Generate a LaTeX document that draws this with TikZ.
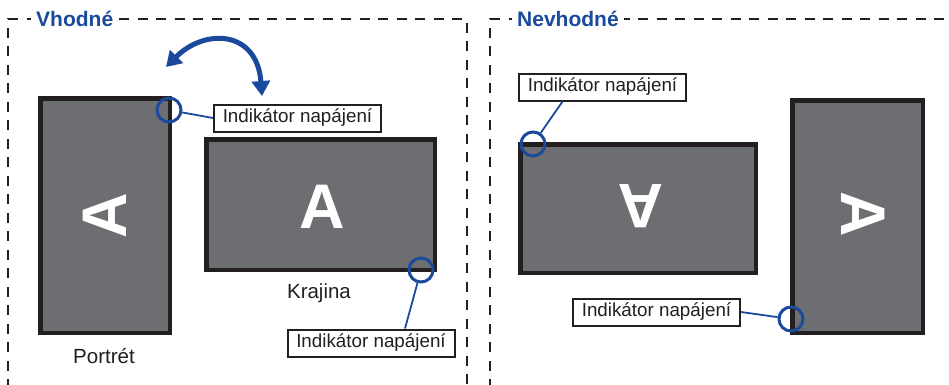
\documentclass[tikz,border=0pt]{standalone}
\usepackage{fontspec}
\setmainfont{Liberation Sans}
\usepackage{tikz}
\usetikzlibrary{positioning,arrows.meta}
\usepackage{xcolor}
\definecolor{ledblue}{HTML}{1B4A9C}
\definecolor{screengray}{HTML}{6D6E72}
\definecolor{framedark}{HTML}{231F20}

\begin{document}
\begin{tikzpicture}[x=1pt,y=-1pt,
    screen/.style={draw=framedark, line width=4.5pt, fill=screengray, inner sep=0pt},
    letter/.style={text=white, font=\fontsize{63}{63}\selectfont\bfseries, inner sep=0pt},
    led/.style={circle, draw=ledblue, line width=3pt, minimum size=24pt, inner sep=0pt},
    tag/.style={draw=framedark, line width=2pt, fill=white, minimum width=167pt, minimum height=27pt,
                inner sep=0pt, font=\fontsize{18.8}{20}\selectfont, text=framedark},
    caption/.style={font=\fontsize{20.5}{22}\selectfont, text=framedark},
    title/.style={fill=white, text=ledblue, font=\fontsize{21}{22}\selectfont\bfseries, inner xsep=5pt},
    zone/.style={draw=framedark, line width=2pt, dash pattern=on 10pt off 8.5pt, dash phase=6pt},
    lead/.style={draw=ledblue, line width=1.8pt}]
                \useasboundingbox (0,0) rectangle (949,384);
                \clip (0,0) rectangle (949,384);
                % Dashed frames
                \draw[zone] (8,420) -- (8,19) -- (467,19) -- (467,420);
                \draw[zone] (490,420) -- (490,19) -- (980,19);
                \node[title, anchor=west] (good) at (31,19) {Vhodné};
                \node[title, anchor=west] (bad) at (512,19) {Nevhodné};

                % Suitable: portrait and landscape
                \node[screen, minimum width=129.5pt, minimum height=234.5pt] (portL) at (105,215.5) {};
                \node[letter, rotate=90] (aPortL) at (portL.center) {A};
                \node[screen, minimum width=228.5pt, minimum height=130.5pt] (landL) at (320.5,204.5) {};
                \node[letter] (aLandL) at (322,207) {A};
                \node[caption] (portText) at (104,356) {Portrét};
                \node[caption] (landText) at (319,293) {Krajina};

                % Rotation arrow
                \coordinate (rotA) at (166,67);
                \coordinate (rotB) at (262,96);
                \draw[ledblue, line width=5pt, {Triangle[width=18pt,length=15pt]}-{Triangle[width=18pt,length=15pt]}]
                    (rotA) .. controls (205,28) and (257,30) .. (rotB);

                % Power indicators (suitable)
                \node[led] (ledPortL) at (169,110) {};
                \node[led] (ledLandL) at (421,270) {};
                \node[tag] (tagPortL) at (297.5,118) {Indikátor napájení};
                \node[tag] (tagLandL) at (371,343) {Indikátor napájení};
                \draw[lead] (ledPortL) -- (tagPortL.west);
                \draw[lead] (ledLandL) -- ([xshift=34pt]tagLandL.north);

                % Unsuitable: upside-down landscape and reversed portrait
                \node[screen, minimum width=235.5pt, minimum height=128.5pt] (landR) at (638,208.5) {};
                \node[letter, rotate=180] (aLandR) at (641,206) {A};
                \node[screen, minimum width=130.5pt, minimum height=232.5pt] (portR) at (857.5,216.5) {};
                \node[letter, rotate=-90] (aPortR) at (863,214) {A};

                % Power indicators (unsuitable)
                \node[led] (ledLandR) at (533,144) {};
                \node[led] (ledPortR) at (791,319) {};
                \node[tag] (tagLandR) at (602.5,87) {Indikátor napájení};
                \node[tag] (tagPortR) at (656.5,312) {Indikátor napájení};
                \draw[lead] (ledLandR) -- ([xshift=-40pt]tagLandR.south);
                \draw[lead] (ledPortR) -- (tagPortR.east);
\end{tikzpicture}
\end{document}
